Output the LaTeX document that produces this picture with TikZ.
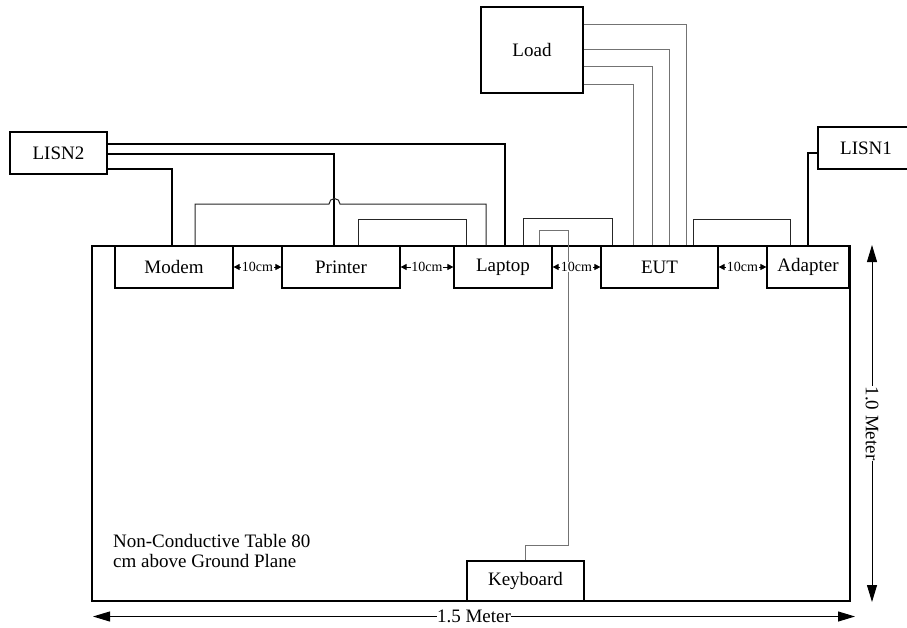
\documentclass[tikz,border=0pt]{standalone}
\usepackage{fontspec}
\setmainfont{Liberation Serif}
\usetikzlibrary{arrows.meta}
\begin{document}
\begin{tikzpicture}[x=1pt,y=-1pt,
  box/.style={draw, line width=1.2pt, fill=white, inner sep=0pt, font=\fontsize{19}{19}\selectfont},
  tablebox/.style={draw, line width=2.8pt, inner sep=0pt},
  thickwire/.style={line width=2.8pt},
  wire/.style={line width=1pt, black!85},
  graywire/.style={line width=1pt, black!55},
  gap/.style={line width=0.8pt, {Triangle[length=6pt,width=6pt]}-{Triangle[length=6pt,width=6pt]}},
  gaplabel/.style={fill=white, inner sep=0.5pt, font=\fontsize{14}{14}\selectfont},
  dim/.style={line width=1pt, {Triangle[length=17pt,width=10pt]}-{Triangle[length=17pt,width=10pt]}},
  dimlabel/.style={fill=white, inner sep=0.5pt, font=\fontsize{19}{19}\selectfont}]
\clip (0,0) rectangle (907,627);
\fill[white] (0,0) rectangle (907,627);
% table
\node[tablebox, minimum width=758pt, minimum height=355pt] (table) at (471,423.5) {};
% boxes
\node[box, minimum width=97pt, minimum height=42pt] (lisn2) at (58.5,153) {LISN2};
\node[box, minimum width=96pt, minimum height=42pt] (lisn1) at (866,148) {LISN1};
\node[box, minimum width=102pt, minimum height=86pt] (load) at (532,50) {Load};
\node[box, minimum width=118pt, minimum height=42pt] (modem) at (174,267) {Modem};
\node[box, minimum width=118pt, minimum height=42pt] (printer) at (341,267) {Printer};
\node[box, minimum width=98pt, minimum height=42pt] (laptop) at (503,267) {Laptop};
\node[box, minimum width=117pt, minimum height=42pt] (eut) at (659.5,267) {EUT};
\node[box, minimum width=82pt, minimum height=42pt] (adapter) at (808,267) {Adapter};
\node[box, minimum width=117pt, minimum height=40pt] (keyboard) at (525.5,581) {Keyboard};
% table label
\node[anchor=base west, align=left, inner sep=0pt, font=\fontsize{19}{20}\selectfont] (tlabel) at (113,567) {Non-Conductive Table 80\\cm above Ground Plane};
% bend coordinates
\coordinate (t1) at (505,144);
\coordinate (t2) at (334,154);
\coordinate (t3) at (172,169);
\coordinate (a1) at (808,153);
\coordinate (m1) at (195,204);
\coordinate (m2) at (329,204);
\coordinate (m3) at (486,204);
\coordinate (p1) at (358,219);
\coordinate (p2) at (466,219);
\coordinate (e1) at (523,218);
\coordinate (e2) at (612,218);
\coordinate (d1) at (693,219);
\coordinate (d2) at (790,219);
\coordinate (k1) at (539,230);
\coordinate (k2) at (568,230);
\coordinate (k3) at (568,545);
\coordinate (k4) at (525.5,545);
\coordinate (l1) at (686,24);
\coordinate (l2) at (669,49);
\coordinate (l3) at (652,66);
\coordinate (l4) at (633,84);
% thick power wires
\draw[thickwire] (lisn2.east |- t1) -| (laptop.north -| t1);
\draw[thickwire] (lisn2.east |- t2) -| (printer.north -| t2);
\draw[thickwire] (lisn2.east |- t3) -| (modem.north -| t3);
\draw[thickwire] (adapter.north) |- (lisn1.west |- a1);
% signal wires
\draw[wire] (modem.north -| m1) |- (m2) arc[start angle=180, end angle=0, radius=5.5pt] -| (laptop.north -| m3);
\draw[wire] (printer.north -| p1) |- (p2) -- (laptop.north -| p2);
\draw[wire] (laptop.north -| e1) |- (e2) -- (eut.north -| e2);
\draw[wire] (eut.north -| d1) |- (d2) -- (adapter.north -| d2);
\draw[graywire] (laptop.north -| k1) -- (k1) -- (k2) -- (k3) -- (k4) -- (keyboard.north);
\draw[graywire] (load.east |- l1) -| (eut.north -| l1);
\draw[graywire] (load.east |- l2) -| (eut.north -| l2);
\draw[graywire] (load.east |- l3) -| (eut.north -| l3);
\draw[graywire] (load.east |- l4) -| (eut.north -| l4);
% 10cm gaps
\draw[gap] (modem.east) -- node[gaplabel] {10cm} (printer.west);
\draw[gap] (printer.east) -- node[gaplabel] {10cm} (laptop.west);
\draw[gap] (laptop.east) -- node[gaplabel] {10cm} (eut.west);
\draw[gap] (eut.east) -- node[gaplabel] {10cm} (adapter.west);
% dimensions
\coordinate (h1) at (93,616.5);
\coordinate (h2) at (855,616.5);
\coordinate (v1) at (872,245);
\coordinate (v2) at (872,602);
\draw[dim] (h1) -- node[dimlabel] {1.5 Meter} (h2);
\draw[dim] (v1) -- node[dimlabel, rotate=-90] {1.0 Meter} (v2);
\end{tikzpicture}
\end{document}
